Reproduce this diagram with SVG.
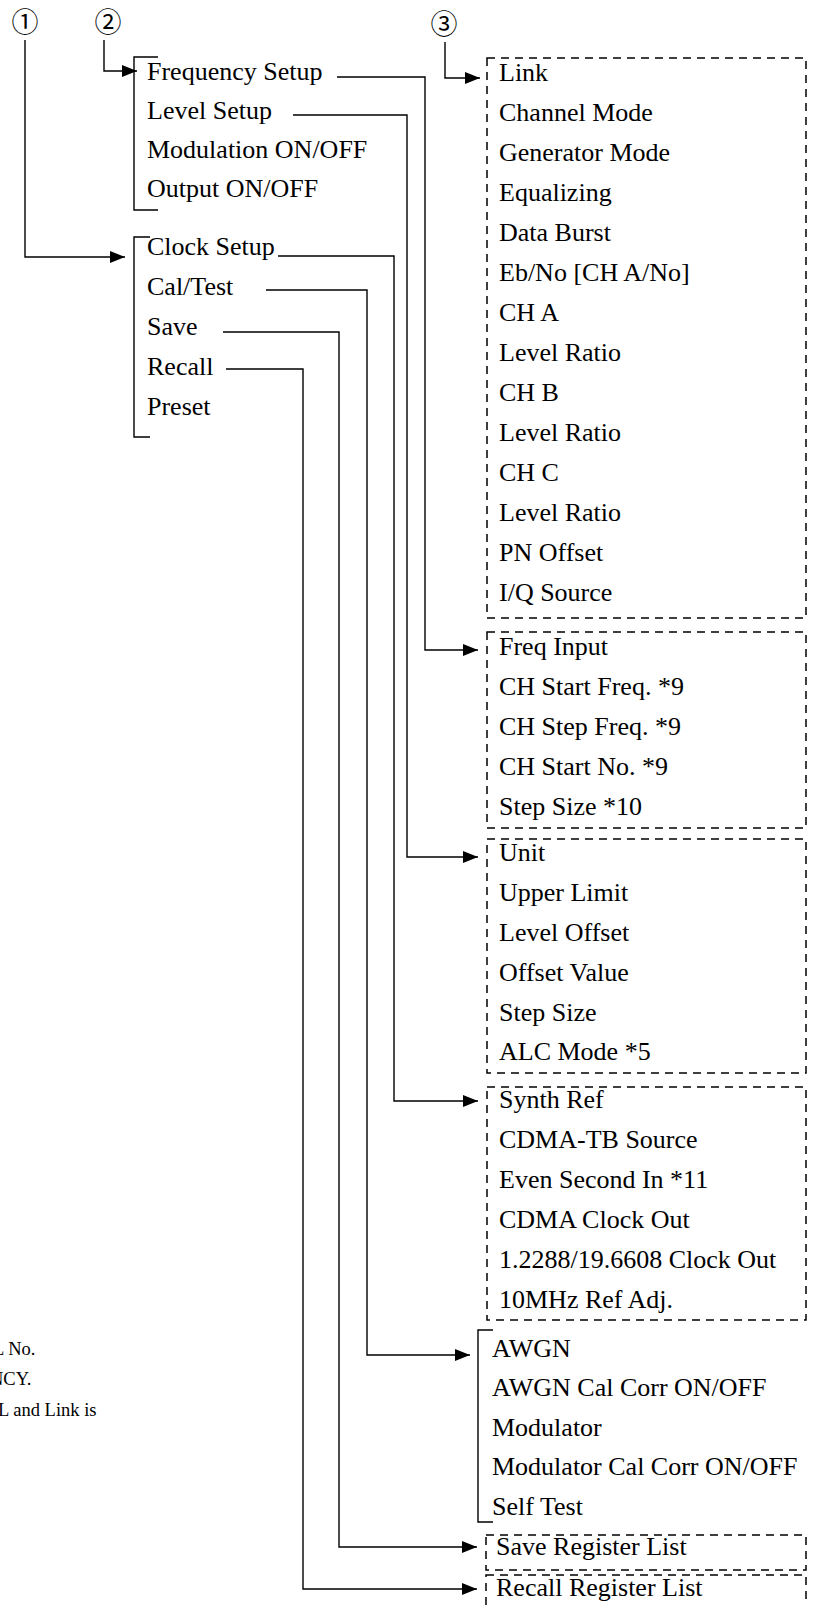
<svg xmlns="http://www.w3.org/2000/svg" width="813" height="1605" viewBox="0 0 813 1605">
<style>
  text { font-family: "Liberation Serif", "Times New Roman", serif; fill: #000; }
  .t { font-size: 26px; }
  .n { font-size: 18.5px; }
  .c { font-family: "Noto Sans CJK JP", "DejaVu Sans", sans-serif; font-size: 27px; text-anchor: middle; dominant-baseline: central; }
  .box { fill: none; stroke: #000; stroke-width: 1.5; stroke-dasharray: 8 6; }
  .br { fill: none; stroke: #000; stroke-width: 1.4; }
  .ln { fill: none; stroke: #000; stroke-width: 1.4; }
</style>
<defs>
  <marker id="ah" markerUnits="userSpaceOnUse" markerWidth="15" markerHeight="12" refX="15" refY="6" orient="auto">
    <path d="M0,0 L15,6 L0,12 z" fill="#000"/>
  </marker>
</defs>
<rect width="813" height="1605" fill="#fff"/>

<g id="labels">
  <text class="c" x="25" y="20">①</text>
  <text class="c" x="108" y="20">②</text>
  <text class="c" x="444" y="22">③</text>
</g>

<g id="notes">
  <text class="n" x="-7" y="1355">L No.</text>
  <text class="n" x="-10" y="1385">NCY.</text>
  <text class="n" x="-2" y="1416">L and Link is</text>
</g>

<g id="group2">
  <path class="br" d="M158,57 H134 V210 H158"/>
  <text class="t" x="147" y="80">Frequency Setup</text>
  <text class="t" x="147" y="119">Level Setup</text>
  <text class="t" x="147" y="158">Modulation ON/OFF</text>
  <text class="t" x="147" y="197">Output ON/OFF</text>
</g>

<g id="group1">
  <path class="br" d="M150,237 H134 V437 H150"/>
  <text class="t" x="147" y="255">Clock Setup</text>
  <text class="t" x="147" y="295">Cal/Test</text>
  <text class="t" x="147" y="335">Save</text>
  <text class="t" x="147" y="375">Recall</text>
  <text class="t" x="147" y="415">Preset</text>
</g>

<g id="menu3">
  <rect class="box" x="487" y="58" width="319" height="560"/>
  <text class="t" x="499" y="81">Link</text>
  <text class="t" x="499" y="121">Channel Mode</text>
  <text class="t" x="499" y="161">Generator Mode</text>
  <text class="t" x="499" y="201">Equalizing</text>
  <text class="t" x="499" y="241">Data Burst</text>
  <text class="t" x="499" y="281">Eb/No [CH A/No]</text>
  <text class="t" x="499" y="321">CH A</text>
  <text class="t" x="499" y="361">Level Ratio</text>
  <text class="t" x="499" y="401">CH B</text>
  <text class="t" x="499" y="441">Level Ratio</text>
  <text class="t" x="499" y="481">CH C</text>
  <text class="t" x="499" y="521">Level Ratio</text>
  <text class="t" x="499" y="561">PN Offset</text>
  <text class="t" x="499" y="601">I/Q Source</text>
</g>

<g id="freq">
  <rect class="box" x="487" y="632" width="319" height="196"/>
  <text class="t" x="499" y="655">Freq Input</text>
  <text class="t" x="499" y="695">CH Start Freq. *9</text>
  <text class="t" x="499" y="735">CH Step Freq. *9</text>
  <text class="t" x="499" y="775">CH Start No. *9</text>
  <text class="t" x="499" y="815">Step Size *10</text>
</g>

<g id="level">
  <rect class="box" x="487" y="839" width="319" height="234"/>
  <text class="t" x="499" y="861">Unit</text>
  <text class="t" x="499" y="901">Upper Limit</text>
  <text class="t" x="499" y="941">Level Offset</text>
  <text class="t" x="499" y="981">Offset Value</text>
  <text class="t" x="499" y="1021">Step Size</text>
  <text class="t" x="499" y="1060">ALC Mode *5</text>
</g>

<g id="clock">
  <rect class="box" x="487" y="1087" width="319" height="233"/>
  <text class="t" x="499" y="1108">Synth Ref</text>
  <text class="t" x="499" y="1148">CDMA-TB Source</text>
  <text class="t" x="499" y="1188">Even Second In *11</text>
  <text class="t" x="499" y="1228">CDMA Clock Out</text>
  <text class="t" x="499" y="1268">1.2288/19.6608 Clock Out</text>
  <text class="t" x="499" y="1308">10MHz Ref Adj.</text>
</g>

<g id="caltest">
  <path class="br" d="M493,1330 H478 V1522 H493"/>
  <text class="t" x="492" y="1357">AWGN</text>
  <text class="t" x="492" y="1396">AWGN Cal Corr ON/OFF</text>
  <text class="t" x="492" y="1436">Modulator</text>
  <text class="t" x="492" y="1475">Modulator Cal Corr ON/OFF</text>
  <text class="t" x="492" y="1515">Self Test</text>
</g>

<g id="save">
  <rect class="box" x="486" y="1535" width="320" height="35"/>
  <text class="t" x="496" y="1555">Save Register List</text>
</g>

<g id="recall">
  <rect class="box" x="486" y="1575" width="320" height="45"/>
  <text class="t" x="496" y="1596">Recall Register List</text>
</g>

<g id="connectors">
  <path class="ln" d="M25,40 V257 H125" marker-end="url(#ah)"/>
  <path class="ln" d="M104,40 V71 H137" marker-end="url(#ah)"/>
  <path class="ln" d="M445,42 V78 H480" marker-end="url(#ah)"/>
  <path class="ln" d="M337,77 H425 V650 H478" marker-end="url(#ah)"/>
  <path class="ln" d="M293,115 H407 V857 H478" marker-end="url(#ah)"/>
  <path class="ln" d="M278,256 H394 V1101 H478" marker-end="url(#ah)"/>
  <path class="ln" d="M266,290 H367 V1355 H470" marker-end="url(#ah)"/>
  <path class="ln" d="M223,332 H339 V1547 H477" marker-end="url(#ah)"/>
  <path class="ln" d="M226,369 H303 V1589 H477" marker-end="url(#ah)"/>
</g>
</svg>
